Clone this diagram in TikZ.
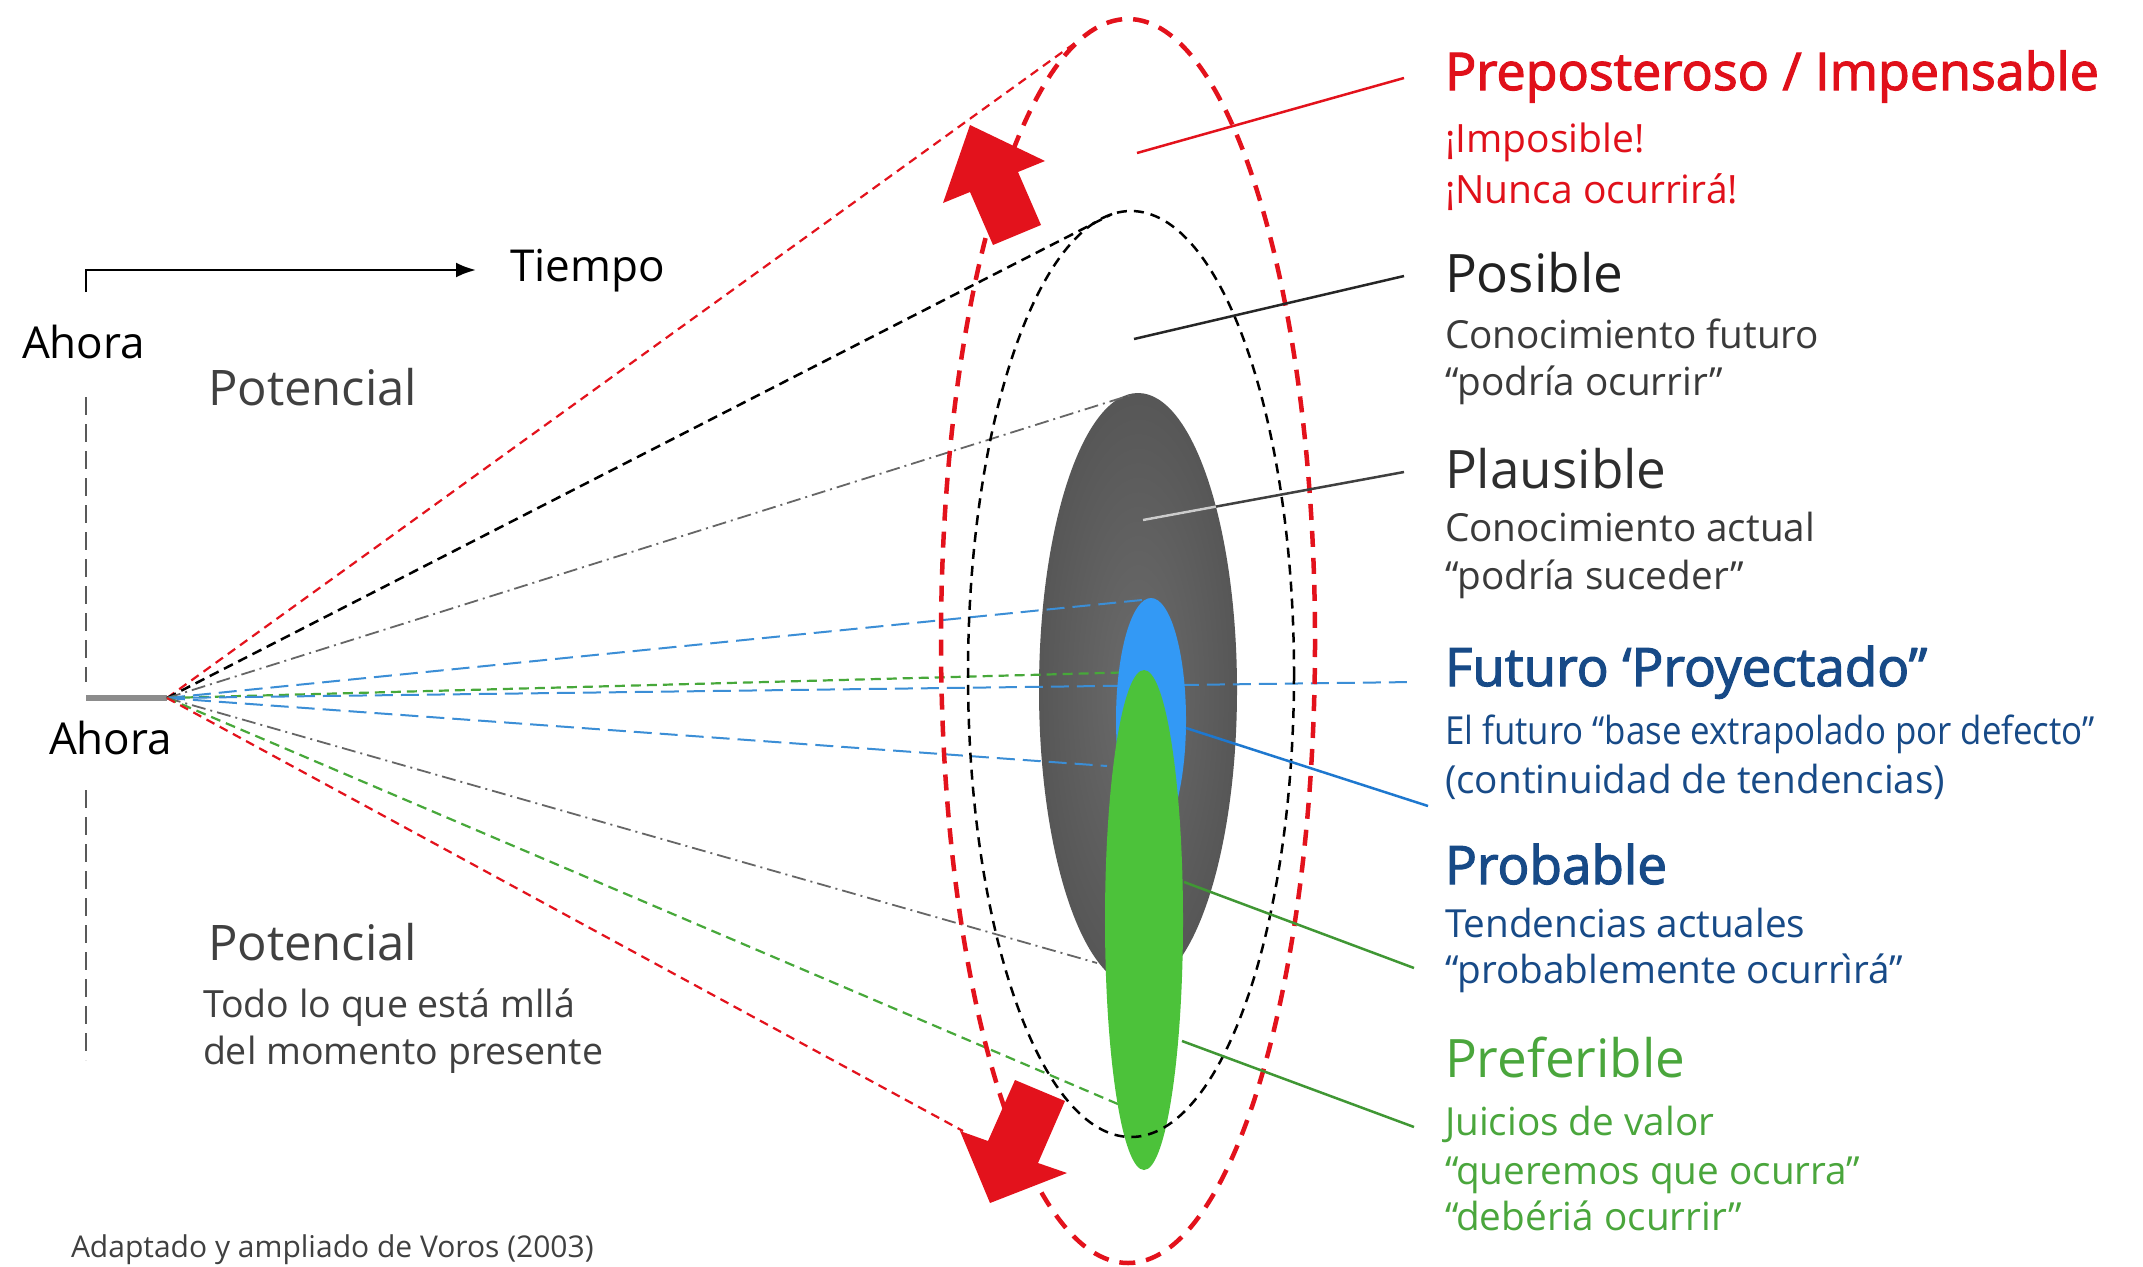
\documentclass[tikz,border=0pt]{standalone}
\usepackage{fontspec}
\setmainfont{Open Sans}
\newfontfamily\semib[FakeBold=2.2]{Open Sans}
\usetikzlibrary{arrows.meta}
\definecolor{rred}{HTML}{E3121C}
\definecolor{tred}{HTML}{E0101A}
\definecolor{dblue}{HTML}{174A87}
\definecolor{lblue}{HTML}{3B8ED6}
\definecolor{eblue}{HTML}{3399F5}
\definecolor{leadblue}{HTML}{1E78CF}
\definecolor{egreen}{HTML}{4CC23A}
\definecolor{fgreen}{HTML}{47A83A}
\definecolor{tgreen}{HTML}{4AA63C}
\definecolor{egray}{HTML}{5E5E5E}
\definecolor{tgray}{HTML}{3A3A3A}
\newcommand\myfs[1]{\fontsize{#1}{#1}\selectfont}
\tikzset{
  txt/.style={anchor=base west, inner sep=0pt, outer sep=0pt},
  fanred/.style={rred, line width=2.2pt, dash pattern=on 9pt off 6pt},
  fanblack/.style={black, line width=2.5pt, dash pattern=on 10pt off 6pt},
  fangray/.style={black!60, line width=1.8pt, dash pattern=on 14pt off 5pt on 2pt off 5pt},
  fanblue/.style={lblue, line width=2pt, dash pattern=on 18pt off 8pt},
  fangreen/.style={fgreen, line width=2.2pt, dash pattern=on 10pt off 6pt},
  bigarrow/.style={fill=rred, draw=none}
}
\begin{document}
\begin{tikzpicture}[x=1pt,y=-1pt]
\fill[white] (0,0) rectangle (2143,1266);
\useasboundingbox (0,0) rectangle (2143,1266);

% ---- time axis ----
\coordinate (tick) at (86,292);
\coordinate (tcorner) at (86,270);
\coordinate (ttip) at (476,270);
\draw[line width=2.6pt, -{Latex[length=20pt,width=15pt]}] (tick) -- (tcorner) -- (ttip);
\coordinate (vd1a) at (86,397);
\coordinate (vd1b) at (86,682);
\coordinate (vd2a) at (86,790);
\coordinate (vd2b) at (86,1060);
\draw[black!65, line width=2pt, dash pattern=on 18pt off 9pt] (vd1a) -- (vd1b);
\draw[black!65, line width=2pt, dash pattern=on 18pt off 9pt] (vd2a) -- (vd2b);
\coordinate (O) at (167,698);
\coordinate (barL) at (86,698);
\draw[black!45, line width=6pt] (barL) -- (O);

% ---- plausible ellipse ----
\coordinate (cgray) at (1138,690);
\shade[inner color=black!58, outer color=black!66] (cgray) ellipse [x radius=99, y radius=297];

% ---- fan lines ----
\coordinate (redU) at (1075,43);
\coordinate (blackU) at (1112,214);
\coordinate (grayU) at (1134,394);
\coordinate (blueU) at (1142,600);
\coordinate (greenU) at (1140,672);
\coordinate (blueC) at (1414,682);
\coordinate (blueL) at (1107,766);
\coordinate (grayL) at (1097,963);
\coordinate (greenL) at (1160,1122);
\coordinate (redL) at (963,1131);
\draw[fanred] (O) -- (redU);
\draw[fanblack] (O) -- (blackU);
\draw[fangray] (O) -- (grayU);
\draw[fanblue] (O) -- (blueU);
\draw[fangreen] (O) -- (greenU);
\draw[fanblue] (O) -- (blueC);
\draw[fanblue] (O) -- (blueL);
\draw[fangray] (O) -- (grayL);
\draw[fangreen] (O) -- (greenL);
\draw[fanred] (O) -- (redL);

% ---- projected & preferable ellipses ----
\coordinate (cblue) at (1151,720);
\fill[eblue] (cblue) ellipse [x radius=35, y radius=122];
\coordinate (cgreen) at (1144,920);
\fill[egreen] (cgreen) ellipse [x radius=39, y radius=250];

% ---- dashed outer ellipses ----
\coordinate (cblack) at (1131,674);
\draw[black, line width=2.5pt, dash pattern=on 10pt off 7pt] (cblack) ellipse [x radius=163, y radius=463];
\coordinate (cred) at (1128,641);
\draw[rred, line width=4.5pt, dash pattern=on 16pt off 11pt] (cred) ellipse [x radius=187, y radius=622];

% ---- leader lines ----
\coordinate (l1a) at (1137,153); \coordinate (l1b) at (1404,78);
\coordinate (l2a) at (1134,339); \coordinate (l2b) at (1404,276);
\coordinate (l3a) at (1143,520); \coordinate (l3b) at (1404,472);
\coordinate (l4a) at (1186,728); \coordinate (l4b) at (1428,806);
\coordinate (l5a) at (1184,882); \coordinate (l5b) at (1414,968);
\coordinate (l6a) at (1182,1041); \coordinate (l6b) at (1414,1127);
\draw[rred, line width=2.5pt] (l1a) -- (l1b);
\draw[black!85, line width=2.5pt] (l2a) -- (l2b);
\draw[black!75, line width=2.5pt] (l3a) -- (l3b);
\begin{scope}
  \clip (cgray) ellipse [x radius=99, y radius=297];
  \draw[black!20, line width=2.5pt] (l3a) -- (l3b);
\end{scope}
\draw[leadblue, line width=2.5pt] (l4a) -- (l4b);
\draw[fgreen!90!black, line width=2.5pt] (l5a) -- (l5b);
\draw[fgreen!90!black, line width=2.5pt] (l6a) -- (l6b);

% ---- red block arrows ----
\coordinate (ua1) at (970,125);
\coordinate (ua2) at (1045,161);
\coordinate (ua3) at (1018,172);
\coordinate (ua4) at (1041,225);
\coordinate (ua5) at (993,245);
\coordinate (ua6) at (970,192);
\coordinate (ua7) at (943,203);
\fill[bigarrow] (ua1) -- (ua2) -- (ua3) -- (ua4) -- (ua5) -- (ua6) -- (ua7) -- cycle;
\coordinate (da1) at (990,1203);
\coordinate (da2) at (1067,1173);
\coordinate (da3) at (1038,1163);
\coordinate (da4) at (1065,1101);
\coordinate (da5) at (1015,1080);
\coordinate (da6) at (988,1141);
\coordinate (da7) at (960,1131);
\fill[bigarrow] (da1) -- (da2) -- (da3) -- (da4) -- (da5) -- (da6) -- (da7) -- cycle;

% ---- left texts ----
\node[txt] (tiempo) at (510,281) {\myfs{44}Tiempo};
\node[txt] (ahora1) at (22,358) {\myfs{44}Ahora};
\node[txt] (ahora2) at (49,754) {\myfs{44}Ahora};
\node[txt, text=black!75] (pot1) at (208,405) {\myfs{49}Potencial};
\node[txt, text=black!75] (pot2) at (208,960) {\myfs{49}Potencial};
\node[txt, text=black!75] (todo1) at (203,1017) {\myfs{37.5}Todo lo que está mllá};
\node[txt, text=black!75] (todo2) at (203,1064) {\myfs{37.5}del momento presente};
\node[txt, text=black!75] (src) at (71,1257) {\myfs{30}Adaptado y ampliado de Voros (2003)};

% ---- right texts ----
\node[txt, text=tred] (h1) at (1445,90) {\myfs{52}\semib Preposteroso / Impensable};
\node[txt, text=tred] (h1a) at (1445,152) {\myfs{39}¡Imposible!};
\node[txt, text=tred] (h1b) at (1445,203) {\myfs{39}¡Nunca ocurrirá!};
\node[txt, text=black!87] (h2) at (1445,292) {\myfs{53}Posible};
\node[txt, text=tgray] (h2a) at (1445,348) {\myfs{38.7}Conocimiento futuro};
\node[txt, text=tgray] (h2b) at (1445,395) {\myfs{38.7}“podría ocurrir”};
\node[txt, text=black!82] (h3) at (1445,488) {\myfs{53}Plausible};
\node[txt, text=tgray] (h3a) at (1445,541) {\myfs{38.7}Conocimiento actual};
\node[txt, text=tgray] (h3b) at (1445,589) {\myfs{38.7}“podría suceder”};
\node[txt, text=dblue] (h4) at (1445,686) {\myfs{53}\semib Futuro ‘Proyectado”};
\node[txt, text=dblue] (h4a) at (1445,744) {\scalebox{0.9}[1]{\myfs{38.7}El futuro “base extrapolado por defecto”}};
\node[txt, text=dblue] (h4b) at (1445,793) {\myfs{38.7}(continuidad de tendencias)};
\node[txt, text=dblue] (h5) at (1445,884) {\myfs{53}\semib Probable};
\node[txt, text=dblue] (h5a) at (1445,937) {\myfs{38.7}Tendencias actuales};
\node[txt, text=dblue] (h5b) at (1445,983) {\myfs{38.7}“probablemente ocurrìrá”};
\node[txt, text=tgreen] (h6) at (1445,1077) {\myfs{53}Preferible};
\node[txt, text=tgreen] (h6a) at (1445,1135) {\myfs{38.7}Juicios de valor};
\node[txt, text=tgreen] (h6b) at (1445,1184) {\myfs{38.7}“queremos que ocurra”};
\node[txt, text=tgreen] (h6c) at (1445,1230) {\myfs{38.7}“debériá ocurrir”};
\end{tikzpicture}
\end{document}
